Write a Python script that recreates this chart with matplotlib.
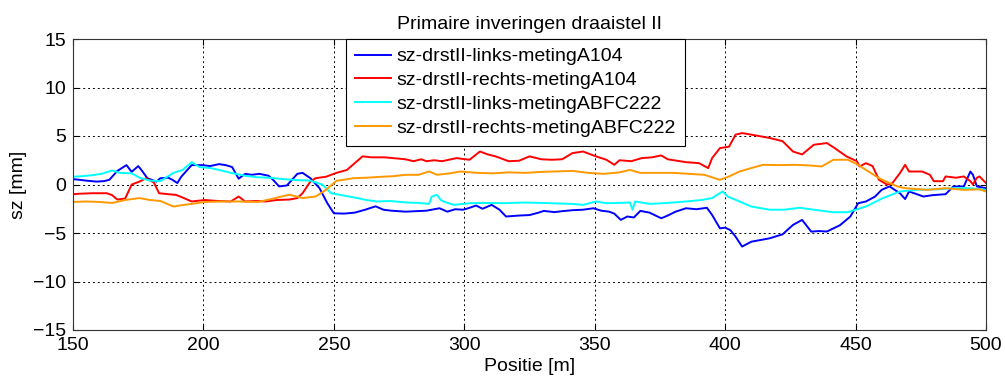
import matplotlib
matplotlib.use("Agg")
import matplotlib.pyplot as plt

plt.rcParams["font.family"] = ["Liberation Sans", "DejaVu Sans"]

title = "Primaire inveringen draaistel II"
labels = [
    "sz-drstII-links-metingA104",
    "sz-drstII-rechts-metingA104",
    "sz-drstII-links-metingABFC222",
    "sz-drstII-rechts-metingABFC222",
]

# sz-drstII-links-metingA104
x_links_a104 = [150, 152, 155, 159, 162, 164, 167, 170.5, 172.5, 175, 176.5, 178.5,
                182, 183.5, 186.5, 188, 190, 191.5, 193.5, 195.5, 199.5, 202.5, 206,
                208.5, 211, 213.5, 216, 218.5, 221.5, 225, 227, 229, 232, 234, 236,
                238, 241, 244.5, 247.5, 250, 254, 258, 262, 266, 269, 272, 277.5,
                281.5, 285.5, 290.5, 293.5, 296.5, 299.5, 301.5, 304.5, 307, 310.5,
                313.5, 316, 321, 325, 328.5, 330.5, 334.5, 337.5, 341.5, 345.5,
                349.5, 352.5, 355.5, 357.5, 360, 362.5, 365, 367.5, 371, 375.5, 378,
                381, 385, 389, 393, 395, 398, 400, 402, 404, 406.5, 410, 417, 422,
                426, 429.5, 433, 436, 439, 444, 448, 451, 454, 457.5, 460, 463, 465,
                467, 469, 470.5, 473.5, 476, 479.5, 484.5, 487.5, 491.5, 494, 495,
                496.5, 500]
y_links_a104 = [0.55, 0.5, 0.4, 0.3, 0.35, 0.5, 1.4, 2.0, 1.3, 1.9, 1.4, 0.65,
                0.3, 0.65, 0.7, 0.5, 0.15, 0.8, 1.4, 2.0, 2.0, 1.9, 2.1,
                2.0, 1.8, 0.6, 1.1, 1.0, 1.1, 0.9, 0.4, -0.2, -0.1, 0.5, 1.1,
                1.2, 0.65, -0.38, -1.93, -2.97, -3.0, -2.9, -2.6, -2.25, -2.6, -2.7, -2.8,
                -2.75, -2.7, -2.45, -2.8, -2.55, -2.6, -2.45, -2.17, -2.5, -2.1,
                -2.6, -3.3, -3.2, -3.15, -2.9, -2.72, -2.85, -2.75, -2.65, -2.6,
                -2.45, -2.7, -2.8, -3.0, -3.65, -3.3, -3.4, -2.72, -2.9, -3.48, -3.2,
                -2.8, -2.45, -2.55, -2.4, -3.14, -4.52, -4.45, -4.7, -5.38, -6.4, -5.9, -5.55, -5.14,
                -4.17, -3.65, -4.86, -4.8, -4.85, -4.2, -3.3, -1.93, -1.75, -1.24, -0.55, -0.2, -0.55,
                -0.9, -1.5, -0.72, -1.0, -1.24, -1.1, -1.0, -0.2, -0.2, 1.34, 1.0,
                -0.2, -0.38]

# sz-drstII-rechts-metingA104
x_rechts_a104 = [150, 152.5, 157.5, 163, 165, 167, 170, 172.5, 175.5, 178, 181, 183,
                 186.5, 189.5, 192.5, 195.5, 200.5, 205.5, 210.5, 213.5, 216, 220,
                 224, 228, 233, 236, 238, 241, 243, 247, 251, 255, 258, 261, 264.5,
                 269.5, 273.5, 277.5, 280.5, 283.5, 285.5, 288.5, 291.5, 297, 302,
                 306, 309, 312, 317, 321, 325, 329.5, 333.5, 337.5, 341.5, 345.5,
                 350.5, 354.5, 357.5, 359.5, 364, 368, 372, 375.5, 378, 385, 390,
                 393.5, 395, 398, 401.5, 404, 406.5, 410, 417, 422, 426, 429.5, 434,
                 439, 442, 446.5, 450.5, 451.5, 454, 456.5, 459, 462, 464, 467, 469,
                 470.5, 475.5, 478.5, 480, 483.5, 484.5, 488.5, 491.5, 494, 495,
                 496.5, 497.5, 500]
y_rechts_a104 = [-1.0, -0.95, -0.9, -0.9, -1.1, -1.55, -1.45, 0.0, 0.3, 0.65, 0.2, -0.9,
                 -1.0, -1.07, -1.4, -1.75, -1.6, -1.7, -1.75, -1.24, -1.75, -1.7,
                 -1.75, -1.6, -1.55, -1.4, -0.9, 0.3, 0.65, 0.8, 1.2, 1.5, 2.2, 2.9, 2.8,
                 2.8, 2.7, 2.6, 2.4, 2.6, 2.4, 2.5, 2.4, 2.72, 2.55,
                 3.4, 3.1, 2.9, 2.4, 2.45, 2.9, 2.6, 2.55, 2.6, 3.24, 3.4,
                 2.9, 2.55, 2.03, 2.5, 2.4, 2.72, 2.8, 3.0, 2.6, 2.3, 2.2,
                 1.69, 2.72, 3.75, 3.9, 5.14, 5.3, 5.14, 4.8, 4.47, 3.4, 3.1, 4.1,
                 4.27, 3.75, 2.9, 2.4, 1.86, 2.2, 1.9, 0.48, 0.0, 0.1, 1.17, 2.03,
                 1.34, 1.34, 1.0, 0.34, 0.34, 0.83, 0.7, 0.83, 0.34, 0.0,
                 0.7, 0.83, 0.15]

# sz-drstII-links-metingABFC222
x_links_abfc = [150, 153, 157, 161, 165, 168, 172.5, 175.5, 179.5, 183.5, 188.5, 192,
                195.5, 198.5, 202.5, 206, 210.5, 216, 220.5, 225, 231, 236, 241,
                245.5, 249, 252, 256, 259, 262.5, 266.5, 271.5, 277.5, 282.5, 286.5,
                287.5, 289.5, 291, 292, 296, 302, 309, 315, 322.5, 329.5, 335.5,
                341.5, 345.5, 350.5, 354.5, 359.5, 363.5, 364.5, 365.5, 371, 378,
                385, 391, 395, 399, 401, 405.5, 410, 417, 422.5, 428.5, 434, 441.5,
                447, 454, 460.5, 467, 473.5, 481.5, 487.5, 493.5, 500]
y_links_abfc = [0.8, 0.85, 0.95, 1.1, 1.45, 1.2, 1.15, 0.7, 0.4, 0.35, 1.2, 1.5,
                2.3, 1.8, 1.7, 1.5, 1.2, 0.9, 0.75, 0.7, 0.55, 0.45, 0.4,
                0.0, -0.9, -1.05, -1.25, -1.4, -1.6, -1.75, -1.7, -1.85, -1.9, -2.0,
                -1.25, -1.07, -1.6, -1.75, -2.1, -1.93, -1.9, -1.93, -1.86, -1.9, -1.95,
                -2.0, -2.1, -1.75, -1.93, -1.9, -1.85, -2.6, -1.75, -2.0, -1.9,
                -1.75, -1.6, -1.4, -0.72, -1.24, -1.75, -2.27, -2.6, -2.6, -2.4, -2.6, -2.86,
                -2.85, -2.27, -1.4, -0.72, -0.55, -0.5, -0.38, -0.38, -0.55]

# sz-drstII-rechts-metingABFC222
x_rechts_abfc = [150, 155, 160, 165, 170, 175.5, 179.5, 183.5, 188.5, 192.5, 195.5,
                 200.5, 207.5, 213.5, 221, 226, 230, 233, 238, 243, 247, 251, 254,
                 257.5, 262.5, 268.5, 272.5, 277.5, 282.5, 286.5, 289.5, 294.5,
                 298.5, 305, 311, 317, 323.5, 329.5, 335.5, 341.5, 347.5, 353.5,
                 359.5, 363.5, 367.5, 374, 380, 386, 392, 398, 401.5, 405.5, 410,
                 414.5, 420.5, 427, 433, 437, 441.5, 447, 451, 454, 459, 463, 466,
                 469, 477.5, 484.5, 491.5, 497.5, 500]
y_rechts_abfc = [-1.8, -1.75, -1.8, -1.9, -1.6, -1.4, -1.6, -1.7, -2.27, -2.1, -2.0,
                 -1.8, -1.75, -1.75, -1.8, -1.5, -1.24, -1.05, -1.4, -1.24, -0.55, 0.38, 0.5,
                 0.65, 0.7, 0.8, 0.85, 1.0, 1.0, 1.35, 1.0, 1.15,
                 1.34, 1.2, 1.15, 1.25, 1.2, 1.3, 1.35, 1.4, 1.2, 1.1,
                 1.25, 1.5, 1.2, 1.2, 1.2, 1.1, 1.0, 0.48, 0.83, 1.34, 1.69,
                 2.03, 2.0, 2.03, 1.95, 1.86, 2.55, 2.55, 2.03, 1.5, 0.65, 0.15, -0.2,
                 -0.38, -0.55, -0.38, -0.55, -0.5, -0.72]

colors = ["#0000ff", "#ff0000", "#00ffff", "#ff9900"]

fig = plt.figure(figsize=(10.05, 3.76), dpi=100)
ax = fig.add_axes([73 / 1005, 1 - 330 / 376, 913 / 1005, 291 / 376])

ax.plot(x_links_a104, y_links_a104, color=colors[0], lw=1.4, label=labels[0])
ax.plot(x_rechts_a104, y_rechts_a104, color=colors[1], lw=1.4, label=labels[1])
ax.plot(x_links_abfc, y_links_abfc, color=colors[2], lw=1.4, label=labels[2])
ax.plot(x_rechts_abfc, y_rechts_abfc, color=colors[3], lw=1.4, label=labels[3])

ax.set_xlim(150, 500)
ax.set_ylim(-15, 15)
ax.set_xticks(range(150, 501, 50))
ax.set_yticks(range(-15, 16, 5))
ax.grid(True, color="black", linestyle=(0, (2, 3)), linewidth=0.7)
ax.tick_params(direction="in", top=True, right=True, length=4, labelsize=14, pad=5)
for s in ax.spines.values():
    s.set_color("#333333")

ax.set_title(title, fontsize=14, pad=7)
ax.set_xlabel("Positie [m]", fontsize=14, labelpad=3)
ax.set_ylabel("sz [mm]", fontsize=14, labelpad=4)

leg = ax.legend(loc="upper left", bbox_to_anchor=(0.299, 1.0), borderaxespad=0,
                fontsize=14, fancybox=False, framealpha=1, edgecolor="black",
                handlelength=1.85, handletextpad=0.3, labelspacing=0.32,
                borderpad=0.45)
leg.get_frame().set_linewidth(0.8)

fig.savefig("out.png", dpi=100)
